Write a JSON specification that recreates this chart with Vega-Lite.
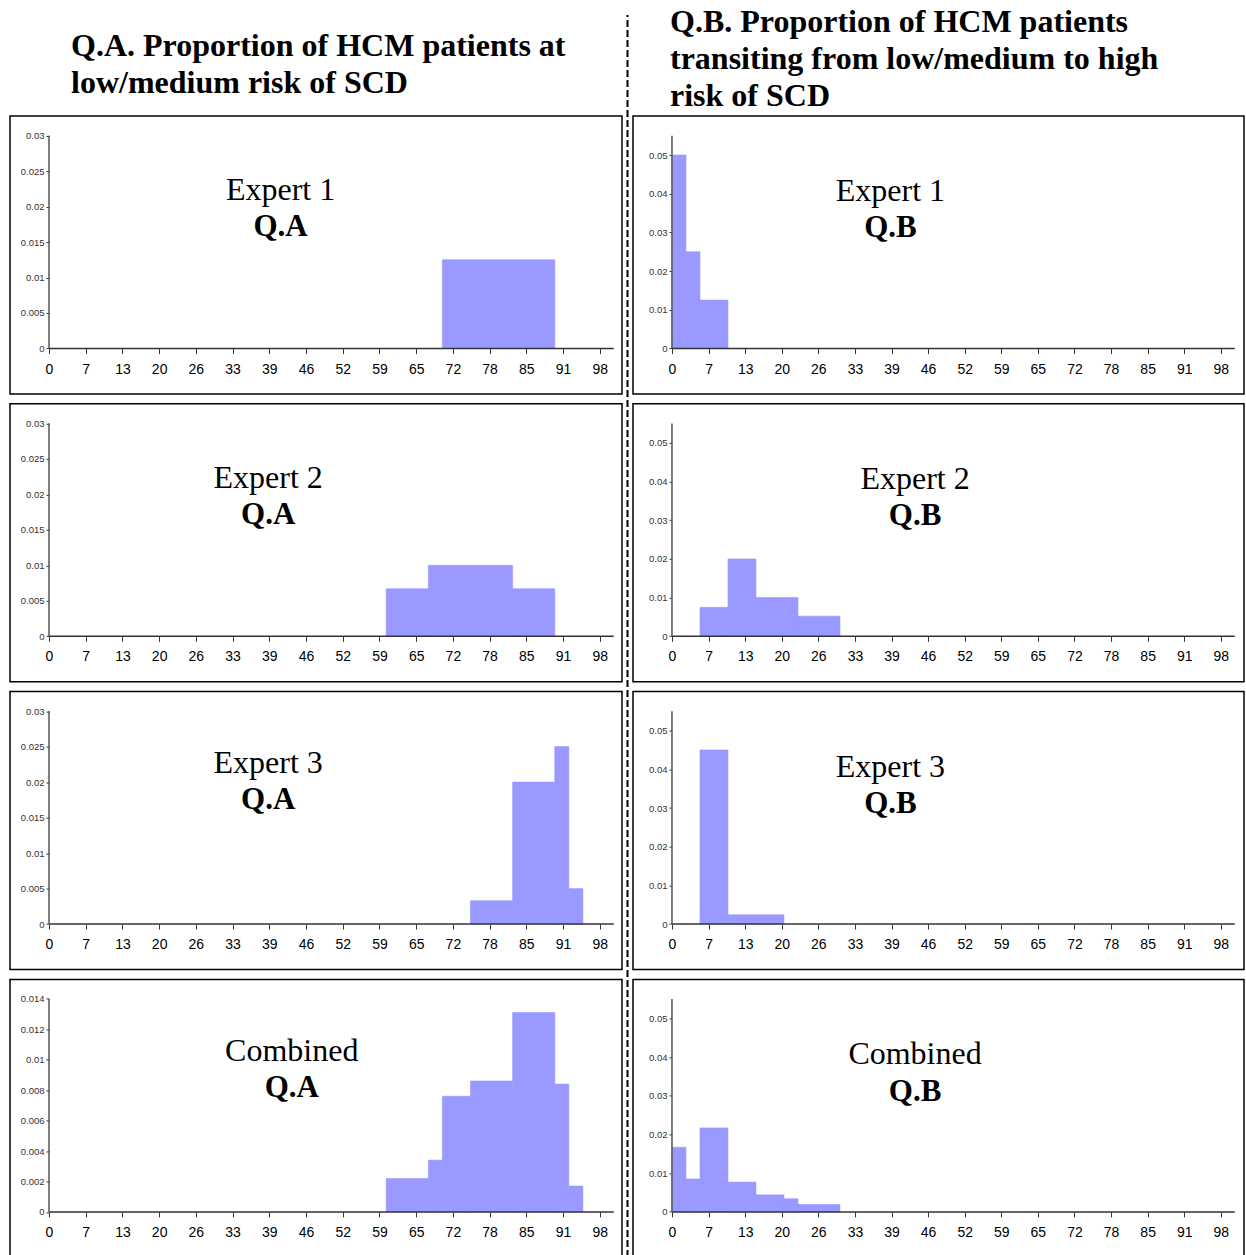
{
  "$schema": "https://vega.github.io/schema/vega-lite/v6.json",
  "padding": {"left": 9, "top": 0, "right": 0, "bottom": 0},
  "background": "white",
  "config": {
    "view": {"stroke": "black", "strokeWidth": 1.5},
    "axis": {"grid": false, "domain": false, "title": null, "labelFont": "Liberation Sans"},
    "rect": {"opacity": 1, "fillOpacity": 1, "strokeOpacity": 1}
  },
  "datasets": {
    "hist": [
      {"panel": "A1", "x0": 70, "x1": 90, "density": 0.0125},
      {"panel": "A2", "x0": 60, "x1": 67.5, "density": 0.0067},
      {"panel": "A2", "x0": 67.5, "x1": 82.5, "density": 0.01},
      {"panel": "A2", "x0": 82.5, "x1": 90, "density": 0.0067},
      {"panel": "A3", "x0": 75, "x1": 82.5, "density": 0.0033},
      {"panel": "A3", "x0": 82.5, "x1": 90, "density": 0.02},
      {"panel": "A3", "x0": 90, "x1": 92.5, "density": 0.025},
      {"panel": "A3", "x0": 92.5, "x1": 95, "density": 0.005},
      {"panel": "A4", "x0": 60, "x1": 67.5, "density": 0.0022},
      {"panel": "A4", "x0": 67.5, "x1": 70, "density": 0.0034},
      {"panel": "A4", "x0": 70, "x1": 75, "density": 0.0076},
      {"panel": "A4", "x0": 75, "x1": 82.5, "density": 0.0086},
      {"panel": "A4", "x0": 82.5, "x1": 90, "density": 0.0131},
      {"panel": "A4", "x0": 90, "x1": 92.5, "density": 0.0084},
      {"panel": "A4", "x0": 92.5, "x1": 95, "density": 0.0017},
      {"panel": "B1", "x0": 0, "x1": 2.5, "density": 0.05},
      {"panel": "B1", "x0": 2.5, "x1": 5, "density": 0.025},
      {"panel": "B1", "x0": 5, "x1": 10, "density": 0.0125},
      {"panel": "B2", "x0": 5, "x1": 10, "density": 0.0075},
      {"panel": "B2", "x0": 10, "x1": 15, "density": 0.02},
      {"panel": "B2", "x0": 15, "x1": 22.5, "density": 0.01},
      {"panel": "B2", "x0": 22.5, "x1": 30, "density": 0.0052},
      {"panel": "B3", "x0": 5, "x1": 10, "density": 0.045},
      {"panel": "B3", "x0": 10, "x1": 20, "density": 0.0024},
      {"panel": "B4", "x0": 0, "x1": 2.5, "density": 0.0167},
      {"panel": "B4", "x0": 2.5, "x1": 5, "density": 0.0085},
      {"panel": "B4", "x0": 5, "x1": 10, "density": 0.0217},
      {"panel": "B4", "x0": 10, "x1": 15, "density": 0.0077},
      {"panel": "B4", "x0": 15, "x1": 20, "density": 0.0044},
      {"panel": "B4", "x0": 20, "x1": 22.5, "density": 0.0034},
      {"panel": "B4", "x0": 22.5, "x1": 30, "density": 0.0019}
    ]
  },
  "spacing": 3.5,
  "hconcat": [
    {
      "spacing": 0,
      "vconcat": [
        {
          "width": 612, "height": 115, "view": {"stroke": null},
          "data": {"values": [{}]},
          "mark": {"type": "text", "text": ["Q.A. Proportion of HCM patients at", "low/medium risk of SCD"], "font": "Liberation Serif", "fontWeight": "bold", "fontSize": 32, "lineHeight": 37, "align": "left", "baseline": "middle", "dx": 61, "color": "black"},
          "encoding": {
            "x": {"datum": 0, "scale": {"domain": [0, 1]}, "axis": null},
            "y": {"datum": 0.6, "scale": {"domain": [0, 1]}, "axis": null}
          }
        },
        {
          "spacing": 7.8,
          "vconcat": [
            {
              "width": 612, "height": 278,
              "data": {"name": "hist"},
              "transform": [{"filter": "datum.panel === 'A1'"}],
              "layer": [
                {"mark": {"type": "rect", "color": "#9999ff", "stroke": "#9999ff", "strokeWidth": 0.6},
                 "encoding": {
                   "x": {"field": "x0", "type": "quantitative", "scale": {"domain": [-6.94, 101.96], "nice": false, "zero": false}, "axis": {"orient": "bottom", "offset": -45.5, "values": [0, 6.5333, 13.0667, 19.6, 26.1333, 32.6667, 39.2, 45.7333, 52.2667, 58.8, 65.3333, 71.8667, 78.4, 84.9333, 91.4667, 98], "tickCount": 30, "format": ".0f", "labelFontSize": 14, "labelColor": "black", "tickColor": "#333", "tickSize": 5, "labelPadding": 8.5, "labelFlush": false, "labelOverlap": false}},
                   "x2": {"field": "x1"},
                   "y": {"field": "density", "type": "quantitative", "scale": {"domain": [-0.00641, 0.03275], "nice": false, "zero": false}, "axis": {"orient": "left", "offset": -39, "values": [0, 0.005, 0.01, 0.015, 0.02, 0.025, 0.03], "tickCount": 20, "format": "~g", "labelFontSize": 9.5, "labelColor": "#333", "tickColor": "#333", "tickSize": 3, "labelPadding": 2, "labelOverlap": false, "labelFlush": false}},
                   "y2": {"datum": 0}
                 }},
                {"data": {"values": [{}]}, "mark": {"type": "rule", "color": "#333", "strokeWidth": 1.5}, "encoding": {"x": {"datum": 0}, "x2": {"datum": 100.5}, "y": {"datum": 0}}},
                {"data": {"values": [{}]}, "mark": {"type": "rule", "color": "#555", "strokeWidth": 1.5}, "encoding": {"x": {"datum": 0}, "y": {"datum": 0}, "y2": {"datum": 0.03}}},
                {"data": {"values": [{}]}, "mark": {"type": "text", "text": "Expert 1", "font": "Liberation Serif", "fontSize": 32, "align": "center", "baseline": "middle", "color": "black"}, "encoding": {"x": {"datum": 41.2}, "y": {"datum": 0.0223}}},
                {"data": {"values": [{}]}, "mark": {"type": "text", "text": "Q.A", "font": "Liberation Serif", "fontSize": 31, "fontWeight": "bold", "align": "center", "baseline": "middle", "color": "black"}, "encoding": {"x": {"datum": 41.2}, "y": {"datum": 0.0171}}}
              ]
            },
            {
              "width": 612, "height": 278,
              "data": {"name": "hist"},
              "transform": [{"filter": "datum.panel === 'A2'"}],
              "layer": [
                {"mark": {"type": "rect", "color": "#9999ff", "stroke": "#9999ff", "strokeWidth": 0.6},
                 "encoding": {
                   "x": {"field": "x0", "type": "quantitative", "scale": {"domain": [-6.94, 101.96], "nice": false, "zero": false}, "axis": {"orient": "bottom", "offset": -45.5, "values": [0, 6.5333, 13.0667, 19.6, 26.1333, 32.6667, 39.2, 45.7333, 52.2667, 58.8, 65.3333, 71.8667, 78.4, 84.9333, 91.4667, 98], "tickCount": 30, "format": ".0f", "labelFontSize": 14, "labelColor": "black", "tickColor": "#333", "tickSize": 5, "labelPadding": 8.5, "labelFlush": false, "labelOverlap": false}},
                   "x2": {"field": "x1"},
                   "y": {"field": "density", "type": "quantitative", "scale": {"domain": [-0.00641, 0.03275], "nice": false, "zero": false}, "axis": {"orient": "left", "offset": -39, "values": [0, 0.005, 0.01, 0.015, 0.02, 0.025, 0.03], "tickCount": 20, "format": "~g", "labelFontSize": 9.5, "labelColor": "#333", "tickColor": "#333", "tickSize": 3, "labelPadding": 2, "labelOverlap": false, "labelFlush": false}},
                   "y2": {"datum": 0}
                 }},
                {"data": {"values": [{}]}, "mark": {"type": "rule", "color": "#333", "strokeWidth": 1.5}, "encoding": {"x": {"datum": 0}, "x2": {"datum": 100.5}, "y": {"datum": 0}}},
                {"data": {"values": [{}]}, "mark": {"type": "rule", "color": "#555", "strokeWidth": 1.5}, "encoding": {"x": {"datum": 0}, "y": {"datum": 0}, "y2": {"datum": 0.03}}},
                {"data": {"values": [{}]}, "mark": {"type": "text", "text": "Expert 2", "font": "Liberation Serif", "fontSize": 32, "align": "center", "baseline": "middle", "color": "black"}, "encoding": {"x": {"datum": 39.0}, "y": {"datum": 0.0223}}},
                {"data": {"values": [{}]}, "mark": {"type": "text", "text": "Q.A", "font": "Liberation Serif", "fontSize": 31, "fontWeight": "bold", "align": "center", "baseline": "middle", "color": "black"}, "encoding": {"x": {"datum": 39.0}, "y": {"datum": 0.0171}}}
              ]
            },
            {
              "width": 612, "height": 278,
              "data": {"name": "hist"},
              "transform": [{"filter": "datum.panel === 'A3'"}],
              "layer": [
                {"mark": {"type": "rect", "color": "#9999ff", "stroke": "#9999ff", "strokeWidth": 0.6},
                 "encoding": {
                   "x": {"field": "x0", "type": "quantitative", "scale": {"domain": [-6.94, 101.96], "nice": false, "zero": false}, "axis": {"orient": "bottom", "offset": -45.5, "values": [0, 6.5333, 13.0667, 19.6, 26.1333, 32.6667, 39.2, 45.7333, 52.2667, 58.8, 65.3333, 71.8667, 78.4, 84.9333, 91.4667, 98], "tickCount": 30, "format": ".0f", "labelFontSize": 14, "labelColor": "black", "tickColor": "#333", "tickSize": 5, "labelPadding": 8.5, "labelFlush": false, "labelOverlap": false}},
                   "x2": {"field": "x1"},
                   "y": {"field": "density", "type": "quantitative", "scale": {"domain": [-0.00641, 0.03275], "nice": false, "zero": false}, "axis": {"orient": "left", "offset": -39, "values": [0, 0.005, 0.01, 0.015, 0.02, 0.025, 0.03], "tickCount": 20, "format": "~g", "labelFontSize": 9.5, "labelColor": "#333", "tickColor": "#333", "tickSize": 3, "labelPadding": 2, "labelOverlap": false, "labelFlush": false}},
                   "y2": {"datum": 0}
                 }},
                {"data": {"values": [{}]}, "mark": {"type": "rule", "color": "#333", "strokeWidth": 1.5}, "encoding": {"x": {"datum": 0}, "x2": {"datum": 100.5}, "y": {"datum": 0}}},
                {"data": {"values": [{}]}, "mark": {"type": "rule", "color": "#555", "strokeWidth": 1.5}, "encoding": {"x": {"datum": 0}, "y": {"datum": 0}, "y2": {"datum": 0.03}}},
                {"data": {"values": [{}]}, "mark": {"type": "text", "text": "Expert 3", "font": "Liberation Serif", "fontSize": 32, "align": "center", "baseline": "middle", "color": "black"}, "encoding": {"x": {"datum": 39.0}, "y": {"datum": 0.0227}}},
                {"data": {"values": [{}]}, "mark": {"type": "text", "text": "Q.A", "font": "Liberation Serif", "fontSize": 31, "fontWeight": "bold", "align": "center", "baseline": "middle", "color": "black"}, "encoding": {"x": {"datum": 39.0}, "y": {"datum": 0.0175}}}
              ]
            },
            {
              "width": 612, "height": 278,
              "data": {"name": "hist"},
              "transform": [{"filter": "datum.panel === 'A4'"}],
              "layer": [
                {"mark": {"type": "rect", "color": "#9999ff", "stroke": "#9999ff", "strokeWidth": 0.6},
                 "encoding": {
                   "x": {"field": "x0", "type": "quantitative", "scale": {"domain": [-6.94, 101.96], "nice": false, "zero": false}, "axis": {"orient": "bottom", "offset": -45.5, "values": [0, 6.5333, 13.0667, 19.6, 26.1333, 32.6667, 39.2, 45.7333, 52.2667, 58.8, 65.3333, 71.8667, 78.4, 84.9333, 91.4667, 98], "tickCount": 30, "format": ".0f", "labelFontSize": 14, "labelColor": "black", "tickColor": "#333", "tickSize": 5, "labelPadding": 8.5, "labelFlush": false, "labelOverlap": false}},
                   "x2": {"field": "x1"},
                   "y": {"field": "density", "type": "quantitative", "scale": {"domain": [-0.00299, 0.01528], "nice": false, "zero": false}, "axis": {"orient": "left", "offset": -39, "values": [0, 0.002, 0.004, 0.006, 0.008, 0.01, 0.012, 0.014], "tickCount": 20, "format": "~g", "labelFontSize": 9.5, "labelColor": "#333", "tickColor": "#333", "tickSize": 3, "labelPadding": 2, "labelOverlap": false, "labelFlush": false}},
                   "y2": {"datum": 0}
                 }},
                {"data": {"values": [{}]}, "mark": {"type": "rule", "color": "#333", "strokeWidth": 1.5}, "encoding": {"x": {"datum": 0}, "x2": {"datum": 100.5}, "y": {"datum": 0}}},
                {"data": {"values": [{}]}, "mark": {"type": "rule", "color": "#555", "strokeWidth": 1.5}, "encoding": {"x": {"datum": 0}, "y": {"datum": 0}, "y2": {"datum": 0.014}}},
                {"data": {"values": [{}]}, "mark": {"type": "text", "text": "Combined", "font": "Liberation Serif", "fontSize": 32, "align": "center", "baseline": "middle", "color": "black"}, "encoding": {"x": {"datum": 43.2}, "y": {"datum": 0.01058}}},
                {"data": {"values": [{}]}, "mark": {"type": "text", "text": "Q.A", "font": "Liberation Serif", "fontSize": 31, "fontWeight": "bold", "align": "center", "baseline": "middle", "color": "black"}, "encoding": {"x": {"datum": 43.2}, "y": {"datum": 0.00815}}}
              ]
            }
          ]
        }
      ]
    },
    {
      "width": 1, "height": 1257, "view": {"stroke": null},
      "data": {"values": [{}]},
      "mark": {"type": "rule", "strokeDash": [7, 3], "strokeWidth": 2, "color": "black"},
      "encoding": {
        "x": {"datum": 0, "scale": {"domain": [0, 1]}, "axis": null},
        "y": {"datum": 0, "scale": {"domain": [0, 1]}, "axis": null},
        "y2": {"datum": 0.988}
      }
    },
    {
      "spacing": 0,
      "vconcat": [
        {
          "width": 611, "height": 115, "view": {"stroke": null},
          "data": {"values": [{}]},
          "mark": {"type": "text", "text": ["Q.B. Proportion of HCM patients", "transiting from low/medium to high", "risk of SCD"], "font": "Liberation Serif", "fontWeight": "bold", "fontSize": 32, "lineHeight": 37, "align": "left", "baseline": "middle", "dx": 37, "color": "black"},
          "encoding": {
            "x": {"datum": 0, "scale": {"domain": [0, 1]}, "axis": null},
            "y": {"datum": 0.8087, "scale": {"domain": [0, 1]}, "axis": null}
          }
        },
        {
          "spacing": 7.8,
          "vconcat": [
            {
              "width": 611, "height": 278,
              "data": {"name": "hist"},
              "transform": [{"filter": "datum.panel === 'B1'"}],
              "layer": [
                {"mark": {"type": "rect", "color": "#9999ff", "stroke": "#9999ff", "strokeWidth": 0.6},
                 "encoding": {
                   "x": {"field": "x0", "type": "quantitative", "scale": {"domain": [-6.96, 102.14], "nice": false, "zero": false}, "axis": {"orient": "bottom", "offset": -45.5, "values": [0, 6.5333, 13.0667, 19.6, 26.1333, 32.6667, 39.2, 45.7333, 52.2667, 58.8, 65.3333, 71.8667, 78.4, 84.9333, 91.4667, 98], "tickCount": 30, "format": ".0f", "labelFontSize": 14, "labelColor": "black", "tickColor": "#333", "tickSize": 5, "labelPadding": 8.5, "labelFlush": false, "labelOverlap": false}},
                   "x2": {"field": "x1"},
                   "y": {"field": "density", "type": "quantitative", "scale": {"domain": [-0.01176, 0.06008], "nice": false, "zero": false}, "axis": {"orient": "left", "offset": -39, "values": [0, 0.01, 0.02, 0.03, 0.04, 0.05], "tickCount": 20, "format": "~g", "labelFontSize": 9.5, "labelColor": "#333", "tickColor": "#333", "tickSize": 3, "labelPadding": 2, "labelOverlap": false, "labelFlush": false}},
                   "y2": {"datum": 0}
                 }},
                {"data": {"values": [{}]}, "mark": {"type": "rule", "color": "#333", "strokeWidth": 1.5}, "encoding": {"x": {"datum": 0}, "x2": {"datum": 100.5}, "y": {"datum": 0}}},
                {"data": {"values": [{}]}, "mark": {"type": "rule", "color": "#555", "strokeWidth": 1.5}, "encoding": {"x": {"datum": 0}, "y": {"datum": 0}, "y2": {"datum": 0.055}}},
                {"data": {"values": [{}]}, "mark": {"type": "text", "text": "Expert 1", "font": "Liberation Serif", "fontSize": 32, "align": "center", "baseline": "middle", "color": "black"}, "encoding": {"x": {"datum": 39.0}, "y": {"datum": 0.0407}}},
                {"data": {"values": [{}]}, "mark": {"type": "text", "text": "Q.B", "font": "Liberation Serif", "fontSize": 31, "fontWeight": "bold", "align": "center", "baseline": "middle", "color": "black"}, "encoding": {"x": {"datum": 39.0}, "y": {"datum": 0.0311}}}
              ]
            },
            {
              "width": 611, "height": 278,
              "data": {"name": "hist"},
              "transform": [{"filter": "datum.panel === 'B2'"}],
              "layer": [
                {"mark": {"type": "rect", "color": "#9999ff", "stroke": "#9999ff", "strokeWidth": 0.6},
                 "encoding": {
                   "x": {"field": "x0", "type": "quantitative", "scale": {"domain": [-6.96, 102.14], "nice": false, "zero": false}, "axis": {"orient": "bottom", "offset": -45.5, "values": [0, 6.5333, 13.0667, 19.6, 26.1333, 32.6667, 39.2, 45.7333, 52.2667, 58.8, 65.3333, 71.8667, 78.4, 84.9333, 91.4667, 98], "tickCount": 30, "format": ".0f", "labelFontSize": 14, "labelColor": "black", "tickColor": "#333", "tickSize": 5, "labelPadding": 8.5, "labelFlush": false, "labelOverlap": false}},
                   "x2": {"field": "x1"},
                   "y": {"field": "density", "type": "quantitative", "scale": {"domain": [-0.01176, 0.06008], "nice": false, "zero": false}, "axis": {"orient": "left", "offset": -39, "values": [0, 0.01, 0.02, 0.03, 0.04, 0.05], "tickCount": 20, "format": "~g", "labelFontSize": 9.5, "labelColor": "#333", "tickColor": "#333", "tickSize": 3, "labelPadding": 2, "labelOverlap": false, "labelFlush": false}},
                   "y2": {"datum": 0}
                 }},
                {"data": {"values": [{}]}, "mark": {"type": "rule", "color": "#333", "strokeWidth": 1.5}, "encoding": {"x": {"datum": 0}, "x2": {"datum": 100.5}, "y": {"datum": 0}}},
                {"data": {"values": [{}]}, "mark": {"type": "rule", "color": "#555", "strokeWidth": 1.5}, "encoding": {"x": {"datum": 0}, "y": {"datum": 0}, "y2": {"datum": 0.055}}},
                {"data": {"values": [{}]}, "mark": {"type": "text", "text": "Expert 2", "font": "Liberation Serif", "fontSize": 32, "align": "center", "baseline": "middle", "color": "black"}, "encoding": {"x": {"datum": 43.4}, "y": {"datum": 0.0407}}},
                {"data": {"values": [{}]}, "mark": {"type": "text", "text": "Q.B", "font": "Liberation Serif", "fontSize": 31, "fontWeight": "bold", "align": "center", "baseline": "middle", "color": "black"}, "encoding": {"x": {"datum": 43.4}, "y": {"datum": 0.0311}}}
              ]
            },
            {
              "width": 611, "height": 278,
              "data": {"name": "hist"},
              "transform": [{"filter": "datum.panel === 'B3'"}],
              "layer": [
                {"mark": {"type": "rect", "color": "#9999ff", "stroke": "#9999ff", "strokeWidth": 0.6},
                 "encoding": {
                   "x": {"field": "x0", "type": "quantitative", "scale": {"domain": [-6.96, 102.14], "nice": false, "zero": false}, "axis": {"orient": "bottom", "offset": -45.5, "values": [0, 6.5333, 13.0667, 19.6, 26.1333, 32.6667, 39.2, 45.7333, 52.2667, 58.8, 65.3333, 71.8667, 78.4, 84.9333, 91.4667, 98], "tickCount": 30, "format": ".0f", "labelFontSize": 14, "labelColor": "black", "tickColor": "#333", "tickSize": 5, "labelPadding": 8.5, "labelFlush": false, "labelOverlap": false}},
                   "x2": {"field": "x1"},
                   "y": {"field": "density", "type": "quantitative", "scale": {"domain": [-0.01176, 0.06008], "nice": false, "zero": false}, "axis": {"orient": "left", "offset": -39, "values": [0, 0.01, 0.02, 0.03, 0.04, 0.05], "tickCount": 20, "format": "~g", "labelFontSize": 9.5, "labelColor": "#333", "tickColor": "#333", "tickSize": 3, "labelPadding": 2, "labelOverlap": false, "labelFlush": false}},
                   "y2": {"datum": 0}
                 }},
                {"data": {"values": [{}]}, "mark": {"type": "rule", "color": "#333", "strokeWidth": 1.5}, "encoding": {"x": {"datum": 0}, "x2": {"datum": 100.5}, "y": {"datum": 0}}},
                {"data": {"values": [{}]}, "mark": {"type": "rule", "color": "#555", "strokeWidth": 1.5}, "encoding": {"x": {"datum": 0}, "y": {"datum": 0}, "y2": {"datum": 0.055}}},
                {"data": {"values": [{}]}, "mark": {"type": "text", "text": "Expert 3", "font": "Liberation Serif", "fontSize": 32, "align": "center", "baseline": "middle", "color": "black"}, "encoding": {"x": {"datum": 39.0}, "y": {"datum": 0.0407}}},
                {"data": {"values": [{}]}, "mark": {"type": "text", "text": "Q.B", "font": "Liberation Serif", "fontSize": 31, "fontWeight": "bold", "align": "center", "baseline": "middle", "color": "black"}, "encoding": {"x": {"datum": 39.0}, "y": {"datum": 0.0311}}}
              ]
            },
            {
              "width": 611, "height": 278,
              "data": {"name": "hist"},
              "transform": [{"filter": "datum.panel === 'B4'"}],
              "layer": [
                {"mark": {"type": "rect", "color": "#9999ff", "stroke": "#9999ff", "strokeWidth": 0.6},
                 "encoding": {
                   "x": {"field": "x0", "type": "quantitative", "scale": {"domain": [-6.96, 102.14], "nice": false, "zero": false}, "axis": {"orient": "bottom", "offset": -45.5, "values": [0, 6.5333, 13.0667, 19.6, 26.1333, 32.6667, 39.2, 45.7333, 52.2667, 58.8, 65.3333, 71.8667, 78.4, 84.9333, 91.4667, 98], "tickCount": 30, "format": ".0f", "labelFontSize": 14, "labelColor": "black", "tickColor": "#333", "tickSize": 5, "labelPadding": 8.5, "labelFlush": false, "labelOverlap": false}},
                   "x2": {"field": "x1"},
                   "y": {"field": "density", "type": "quantitative", "scale": {"domain": [-0.01176, 0.06008], "nice": false, "zero": false}, "axis": {"orient": "left", "offset": -39, "values": [0, 0.01, 0.02, 0.03, 0.04, 0.05], "tickCount": 20, "format": "~g", "labelFontSize": 9.5, "labelColor": "#333", "tickColor": "#333", "tickSize": 3, "labelPadding": 2, "labelOverlap": false, "labelFlush": false}},
                   "y2": {"datum": 0}
                 }},
                {"data": {"values": [{}]}, "mark": {"type": "rule", "color": "#333", "strokeWidth": 1.5}, "encoding": {"x": {"datum": 0}, "x2": {"datum": 100.5}, "y": {"datum": 0}}},
                {"data": {"values": [{}]}, "mark": {"type": "rule", "color": "#555", "strokeWidth": 1.5}, "encoding": {"x": {"datum": 0}, "y": {"datum": 0}, "y2": {"datum": 0.055}}},
                {"data": {"values": [{}]}, "mark": {"type": "text", "text": "Combined", "font": "Liberation Serif", "fontSize": 32, "align": "center", "baseline": "middle", "color": "black"}, "encoding": {"x": {"datum": 43.4}, "y": {"datum": 0.0407}}},
                {"data": {"values": [{}]}, "mark": {"type": "text", "text": "Q.B", "font": "Liberation Serif", "fontSize": 31, "fontWeight": "bold", "align": "center", "baseline": "middle", "color": "black"}, "encoding": {"x": {"datum": 43.4}, "y": {"datum": 0.0311}}}
              ]
            }
          ]
        }
      ]
    }
  ]
}
